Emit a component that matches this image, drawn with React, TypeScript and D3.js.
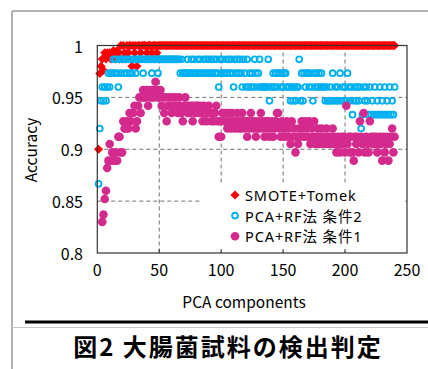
import * as d3 from "d3";

// PCA components 1..240
const smoteTomek = [
  0.9, 0.973, 0.98, 0.987, 0.976, 0.993, 0.987, 0.993, 0.99, 0.993,
  0.987, 0.993, 0.995, 0.993, 0.987, 0.995, 0.993, 0.987, 1, 0.987,
  1, 0.993, 0.987, 1, 0.993, 1, 1, 0.98, 1, 0.993,
  1, 0.98, 1, 1, 0.993, 1, 1, 1, 1, 0.993,
  1, 1, 1, 0.993, 1, 1, 1, 0.993, 1, 1,
  1, 1, 1, 1, 1, 1, 1, 1, 1, 1, 1, 1, 1, 1, 1, 1, 1, 1, 1, 1,
  1, 1, 1, 1, 1, 1, 1, 1, 1, 1, 1, 1, 1, 1, 1, 1, 1, 1, 1, 1,
  1, 1, 1, 1, 1, 1, 1, 1, 1, 1, 1, 1, 1, 1, 1, 1, 1, 1, 1, 1,
  1, 1, 1, 1, 1, 1, 1, 1, 1, 1, 1, 1, 1, 1, 1, 1, 1, 1, 1, 1,
  1, 1, 1, 1, 1, 1, 1, 1, 1, 1, 1, 1, 1, 1, 1, 1, 1, 1, 1, 1,
  1, 1, 1, 1, 1, 1, 1, 1, 1, 1, 1, 1, 1, 1, 1, 1, 1, 1, 1, 1,
  1, 1, 1, 1, 1, 1, 1, 1, 1, 1, 1, 1, 1, 1, 1, 1, 1, 1, 1, 1,
  1, 1, 1, 1, 1, 1, 1, 1, 1, 1, 1, 1, 1, 1, 1, 1, 1, 1, 1, 1,
  1, 1, 1, 1, 1, 1, 1, 1, 1, 1, 1, 1, 1, 1, 1, 1, 1, 1, 1, 1,
  1, 1, 1, 1, 1, 1, 1, 1, 1, 1,
];

// PCA+RF法 条件2, components 1..240
const cond2 = [
  0.8667, 0.92, 0.9467, 0.96, 0.9467, 0.96, 0.9467, 0.96, 0.9733, 0.96,
  0.9733, 0.9733, 0.9867, 0.9733, 0.9867, 0.9733, 0.96, 0.9867, 0.9733, 0.9867,
  0.9867, 0.9733, 0.9867, 0.9733, 0.9867, 0.9733, 0.9867, 0.9733, 0.9867, 0.9867,
  0.9733, 0.9867, 0.9867, 0.9867, 0.9867, 0.9867, 0.9733, 0.9867, 0.9867, 0.9867,
  0.9867, 0.9867, 0.9867, 0.9733, 0.9867, 0.9867, 0.9867, 0.9867, 0.9733, 0.9867,
  0.9867, 0.9867, 0.9867, 0.9867, 0.9867, 0.9867, 0.9867, 0.9867, 0.9867, 0.9867,
  0.9867, 0.9867, 0.9867, 0.9867, 0.9867, 0.9867, 0.9733, 0.9867, 0.9733, 0.9733,
  0.9733, 0.9733, 0.9867, 0.9733, 0.9733, 0.9867, 0.9733, 0.9867, 0.9733, 0.9733,
  0.9867, 0.9733, 0.9867, 0.9733, 0.9733, 0.9867, 0.9733, 0.9867, 0.9733, 0.9867,
  0.9733, 0.9867, 0.9733, 0.9867, 0.9733, 0.9867, 0.9733, 0.96, 0.9867, 0.9733,
  0.9867, 0.9733, 0.9733, 0.9867, 0.9733, 0.9867, 0.9733, 0.9867, 0.9733, 0.96,
  0.9867, 0.9733, 0.9867, 0.9733, 0.9867, 0.9733, 0.96, 0.9867, 0.9733, 0.96,
  0.9867, 0.96, 0.9733, 0.96, 0.9733, 0.96, 0.9867, 0.9733, 0.96, 0.9733,
  0.9867, 0.96, 0.96, 0.96, 0.96, 0.96, 0.96, 0.9867, 0.9467, 0.96,
  0.96, 0.9733, 0.96, 0.9733, 0.96, 0.9733, 0.9733, 0.96, 0.9733, 0.96,
  0.9733, 0.9733, 0.96, 0.96, 0.96, 0.9467, 0.96, 0.9467, 0.96, 0.9467,
  0.96, 0.96, 0.9867, 0.9467, 0.9733, 0.9467, 0.9733, 0.96, 0.9733, 0.9733,
  0.96, 0.9733, 0.96, 0.9467, 0.9733, 0.96, 0.9733, 0.96, 0.9733, 0.96,
  0.9733, 0.96, 0.96, 0.9467, 0.96, 0.9467, 0.9467, 0.96, 0.9467, 0.9733,
  0.9467, 0.96, 0.9467, 0.96, 0.9467, 0.9733, 0.9467, 0.96, 0.9467, 0.96,
  0.9467, 0.9733, 0.96, 0.9467, 0.96, 0.9333, 0.9467, 0.96, 0.9467, 0.96,
  0.9467, 0.96, 0.92, 0.9333, 0.96, 0.9467, 0.96, 0.9467, 0.9333, 0.96,
  0.9333, 0.9467, 0.9333, 0.96, 0.9333, 0.9467, 0.9333, 0.96, 0.9333, 0.9467,
  0.9333, 0.96, 0.9333, 0.9467, 0.9333, 0.96, 0.9333, 0.9467, 0.9333, 0.96,
];

// PCA+RF法 条件1, components 4..240
const cond1Start = 4;
const cond1 = [
  0.83, 0.837, 0.852, 0.86, 0.882, 0.889, 0.905,
  0.889, 0.897, 0.889, 0.889, 0.897, 0.889, 0.912, 0.912, 0.897, 0.897,
  0.927, 0.92, 0.92, 0.927, 0.92, 0.935, 0.927, 0.935, 0.935, 0.942,
  0.92, 0.927, 0.942, 0.95, 0.935, 0.95, 0.957, 0.95, 0.95, 0.957,
  0.942, 0.95, 0.957, 0.95, 0.957, 0.95, 0.965, 0.957, 0.95, 0.95,
  0.957, 0.942, 0.95, 0.935, 0.95, 0.927, 0.942, 0.95, 0.942, 0.935,
  0.95, 0.942, 0.95, 0.942, 0.935, 0.95, 0.942, 0.935, 0.927, 0.942,
  0.95, 0.942, 0.935, 0.942, 0.935, 0.942, 0.927, 0.942, 0.935, 0.942,
  0.942, 0.935, 0.942, 0.935, 0.927, 0.942, 0.935, 0.927, 0.935, 0.942,
  0.935, 0.927, 0.935, 0.927, 0.935, 0.942, 0.927, 0.912, 0.927, 0.912,
  0.935, 0.927, 0.935, 0.927, 0.92, 0.935, 0.927, 0.92, 0.935, 0.927,
  0.92, 0.927, 0.935, 0.92, 0.927, 0.92, 0.935, 0.927, 0.92, 0.927,
  0.912, 0.927, 0.92, 0.935, 0.927, 0.92, 0.927, 0.912, 0.92, 0.927,
  0.92, 0.935, 0.927, 0.92, 0.912, 0.927, 0.92, 0.927, 0.912, 0.92,
  0.927, 0.912, 0.92, 0.927, 0.935, 0.935, 0.92, 0.912, 0.927, 0.92,
  0.912, 0.92, 0.927, 0.912, 0.92, 0.905, 0.927, 0.912, 0.92, 0.897,
  0.912, 0.905, 0.92, 0.912, 0.927, 0.92, 0.912, 0.927, 0.92, 0.912,
  0.927, 0.905, 0.92, 0.912, 0.927, 0.905, 0.912, 0.92, 0.905, 0.912,
  0.92, 0.905, 0.912, 0.905, 0.92, 0.912, 0.905, 0.912, 0.905, 0.92,
  0.912, 0.905, 0.897, 0.912, 0.905, 0.897, 0.912, 0.905, 0.912, 0.897,
  0.942, 0.905, 0.912, 0.897, 0.912, 0.897, 0.889, 0.912, 0.905, 0.912,
  0.897, 0.927, 0.912, 0.905, 0.935, 0.897, 0.912, 0.905, 0.897, 0.927,
  0.912, 0.905, 0.912, 0.905, 0.912, 0.897, 0.905, 0.912, 0.905, 0.889,
  0.912, 0.897, 0.905, 0.912, 0.889, 0.905, 0.912, 0.92, 0.897, 0.912,
];

const xTicks = [0, 50, 100, 150, 200, 250];
const yTicks = [0.8, 0.85, 0.9, 0.95, 1];
const yTickLabels = ["0.8", "0.85", "0.9", "0.95", "1"];
const legendLabels = ["SMOTE+Tomek", "PCA+RF法 条件2", "PCA+RF法 条件1"];

const RED = "#ff0000";
const BLUE = "#00b0f0";
const PINK = "#d42a8e";
const FONT = "'Noto Sans CJK JP', 'Noto Sans', sans-serif";
const LEGEND_FONT = "'Noto Sans', 'Noto Sans CJK JP', sans-serif";

export default function App() {
  const W = 428;
  const H = 369;
  const x = d3.scaleLinear().domain([0, 250]).range([97.3, 407]);
  const y = d3.scaleLinear().domain([0.8, 1]).range([253, 45.5]);

  const redPts = smoteTomek.map((v, i) => ({ c: i + 1, v }));
  const bluePts = cond2.map((v, i) => ({ c: i + 1, v }));
  const pinkPts = cond1.map((v, i) => ({ c: i + cond1Start, v }));

  const diamond = d3.symbol(d3.symbolSquare, 42)() as string;

  const [x0, x1] = x.range();
  const [yb, yt] = y.range();
  const leg = { x: 200, y: 183, w: 205, h: 68 };

  return (
    <svg
      width={W}
      height={H}
      style={{ position: "absolute", left: 0, top: 0, background: "#fff" }}
      fontFamily={FONT}
    >
      {/* outer frame */}
      <line x1={12} y1={11} x2={W} y2={11} stroke="#9a9a9a" strokeWidth={1.5} />
      <line x1={12} y1={11} x2={12} y2={H} stroke="#9a9a9a" strokeWidth={1.5} />
      <line x1={25} y1={322} x2={W} y2={322} stroke="#000" strokeWidth={3} />
      <line x1={12} y1={327.5} x2={W} y2={327.5} stroke="#c8c8c8" strokeWidth={1} />

      {/* grid */}
      {xTicks.slice(1, -1).map(t => (
        <line key={"gx" + t} x1={x(t)} x2={x(t)} y1={yt} y2={yb}
          stroke="#707070" strokeWidth={1} strokeDasharray="4,3" />
      ))}
      {yTicks.slice(1, -1).map(t => (
        <line key={"gy" + t} x1={x0} x2={x1} y1={y(t)} y2={y(t)}
          stroke="#707070" strokeWidth={1} strokeDasharray="4,3" />
      ))}

      {/* series */}
      {redPts.map(d => (
        <path key={"r" + d.c} d={diamond}
          transform={`translate(${x(d.c)},${y(d.v)}) rotate(45)`} fill={RED} />
      ))}
      {bluePts.map(d => (
        <circle key={"b" + d.c} cx={x(d.c)} cy={y(d.v)} r={2.9}
          fill="none" stroke={BLUE} strokeWidth={1.9} />
      ))}
      {pinkPts.map(d => (
        <circle key={"p" + d.c} cx={x(d.c)} cy={y(d.v)} r={4.3} fill={PINK} />
      ))}

      {/* legend */}
      <rect x={leg.x} y={leg.y} width={leg.w} height={leg.h} fill="#fff" />
      {legendLabels.map((lab, i) => {
        const cy = 195 + i * 20.6;
        return (
          <g key={lab}>
            {i === 0 && (
              <path d={diamond} transform={`translate(235,${cy}) rotate(45)`} fill={RED} />
            )}
            {i === 1 && (
              <circle cx={235} cy={cy} r={2.9} fill="none" stroke={BLUE} strokeWidth={1.9} />
            )}
            {i === 2 && <circle cx={235} cy={cy} r={4.3} fill={PINK} />}
            <text x={245} y={cy} dominantBaseline="central" fontSize={14.5}
              letterSpacing={0.9} fontFamily={LEGEND_FONT} fill="#000">
              {lab}
            </text>
          </g>
        );
      })}

      {/* plot frame */}
      <rect x={x0} y={yt} width={x1 - x0} height={yb - yt}
        fill="none" stroke="#333" strokeWidth={1.2} />
      {xTicks.slice(1, -1).map(t => (
        <line key={"tx" + t} x1={x(t)} x2={x(t)} y1={yb} y2={yb - 4} stroke="#333" />
      ))}

      {/* tick labels */}
      {yTicks.map((t, i) => (
        <text key={"ly" + t} x={83} y={y(t)} textAnchor="end" dominantBaseline="central"
          fontSize={16} fill="#000">{yTickLabels[i]}</text>
      ))}
      {xTicks.map(t => (
        <text key={"lx" + t} x={x(t)} y={269} textAnchor="middle" dominantBaseline="central"
          fontSize={16} fill="#000">{t}</text>
      ))}

      <text x={244} y={301} textAnchor="middle" dominantBaseline="central" fontSize={15.5}>
        PCA components
      </text>
      <text transform="translate(30,150) rotate(-90)" textAnchor="middle"
        dominantBaseline="central" fontSize={15.5}>
        Accuracy
      </text>

      <text x={228} y={345} textAnchor="middle" dominantBaseline="central"
        fontSize={24} fontWeight={700} letterSpacing={2}>
        図2 大腸菌試料の検出判定
      </text>
    </svg>
  );
}
